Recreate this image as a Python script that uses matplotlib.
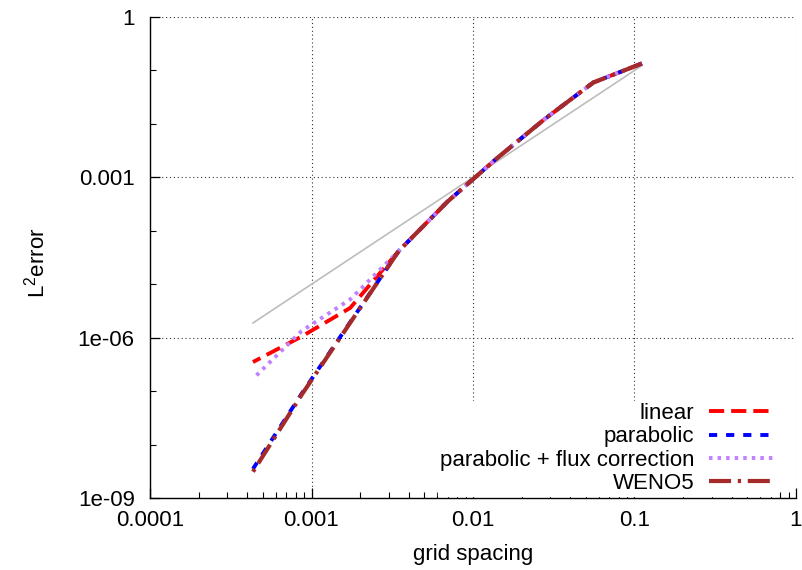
import matplotlib
matplotlib.use("Agg")
import matplotlib.pyplot as plt
import numpy as np
from matplotlib.ticker import LogLocator, FixedLocator, NullFormatter

# grid spacings (dx = 1/N)
dx = [1/9, 1/18, 1/36, 1/72, 1/144, 1/288, 1/576, 1/1152, 1/2304]

# L2 errors
err_linear = [0.135, 0.0594, 0.0123, 0.0022, 3.5e-4, 4.2e-5, 3.6e-6, 1.05e-6, 3.5e-7]
err_parabolic = [0.135, 0.0594, 0.0123, 0.0022, 3.5e-4, 4.2e-5, 1.95e-6, 8.9e-8, 3.5e-9]
err_flux = [0.135, 0.0594, 0.0123, 0.0022, 3.5e-4, 4.2e-5, 5.2e-6, 1.33e-6, 1.7e-7]
err_weno5 = [0.135, 0.0594, 0.0123, 0.0022, 3.5e-4, 4.2e-5, 1.9e-6, 8.5e-8, 3.1e-9]

# second order reference slope: 10 * dx^2
ref_coef = 10.0

plt.rcParams['font.family'] = ['Liberation Sans', 'DejaVu Sans']
plt.rcParams['mathtext.default'] = 'regular'
FS = 16

fig = plt.figure(figsize=(8.03, 5.70), dpi=100)
ax = fig.add_axes([150/803, 1 - 498/570, 646/803, 481/570])

dxa = np.array(dx)
ax.plot(dxa, ref_coef * dxa**2, color='#bdbdbd', lw=1.2, zorder=2)

ax.plot(dx, err_linear, color='#ff0000', lw=2.8, dashes=(3.9, 1.8), label='linear', zorder=3)
ax.plot(dx, err_parabolic, color='#0000ff', lw=2.8, dashes=(2.1, 2.3), label='parabolic', zorder=4)
ax.plot(dx, err_flux, color='#c080ff', lw=2.8, dashes=(0.9, 1.3),
        label='parabolic + flux correction', zorder=5)
ax.plot(dx, err_weno5, color='#a52a2a', lw=3.0, dashes=(5.3, 1.6, 0.8, 1.6),
        label='WENO5', zorder=6)

ax.set_xscale('log')
ax.set_yscale('log')
ax.set_xlim(1e-4, 1)
ax.set_ylim(1e-9, 1)

ax.xaxis.set_major_locator(FixedLocator([1e-4, 1e-3, 1e-2, 1e-1, 1]))
ax.xaxis.set_minor_locator(LogLocator(base=10, subs=np.arange(2, 10), numticks=20))
ax.xaxis.set_minor_formatter(NullFormatter())
ax.set_xticklabels(['0.0001', '0.001', '0.01', '0.1', '1'])

ax.yaxis.set_major_locator(FixedLocator([1e-9, 1e-6, 1e-3, 1]))
ax.yaxis.set_minor_locator(FixedLocator([1e-8, 1e-7, 1e-5, 1e-4, 1e-2, 1e-1]))
ax.yaxis.set_minor_formatter(NullFormatter())
ax.set_yticklabels(['1e-09', '1e-06', '0.001', '1'])

ax.tick_params(which='both', direction='in', labelsize=FS, top=False, right=False)
ax.tick_params(which='major', length=7, width=0.9)
ax.tick_params(which='minor', length=4.5, width=0.8)
ax.tick_params(axis='y', pad=11)
ax.tick_params(axis='x', pad=9)

for s in ['top', 'right']:
    ax.spines[s].set_visible(False)
for s in ['left', 'bottom']:
    ax.spines[s].set_linewidth(1.0)

ax.grid(True, which='major', color='#333333', linestyle=(0, (1, 2.5)), lw=0.8, zorder=1)

ax.set_xlabel('grid spacing', fontsize=FS, labelpad=9)
ax.set_ylabel(r'L$^{2}$error', fontsize=FS)
ax.yaxis.set_label_coords((50 - 150) / 646, 0.49)

leg = ax.legend(loc='lower right', bbox_to_anchor=((775 - 150) / 646, 0.004),
                fontsize=FS, markerfirst=False, frameon=True,
                fancybox=False, handlelength=2.85, labelspacing=0.1,
                borderaxespad=0.0, handletextpad=0.68, borderpad=0.1)
leg.get_frame().set_facecolor('white')
leg.get_frame().set_edgecolor('white')
leg.get_frame().set_alpha(1.0)
leg.set_zorder(10)

fig.savefig('out.png', dpi=100)
